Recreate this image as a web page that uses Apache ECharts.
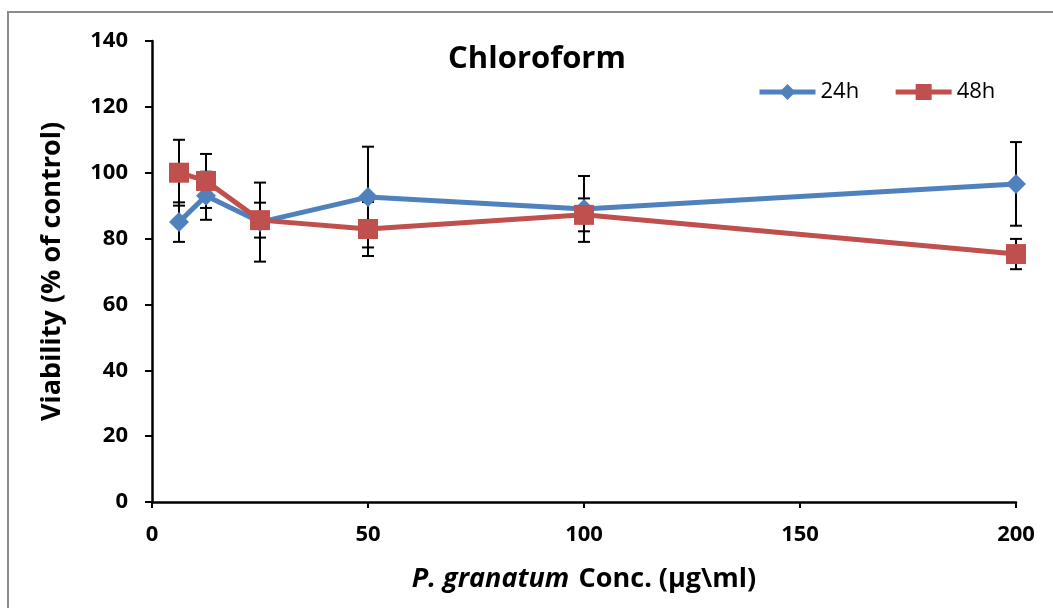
<!DOCTYPE html>
<html>
<head>
<meta charset="utf-8">
<script src="https://cdn.jsdelivr.net/npm/echarts@6/dist/echarts.min.js"></script>
<style>
  html, body { margin: 0; padding: 0; background: #fff; }
  #container { width: 1053px; height: 608px; }
</style>
</head>
<body>
<div id="container"></div>
<script>
var conc = [6.25, 12.5, 25, 50, 100, 200];
var viab24 = [85, 93, 85, 92.6, 89, 96.6];
var err24 = [6, 7.3, 12, 15.3, 10, 12.7];
var viab48 = [100, 97.5, 85.6, 82.9, 87.2, 75.3];
var err48 = [10, 8.2, 5.3, 8.2, 5, 4.6];
var yTicks = [0, 20, 40, 60, 80, 100, 120, 140];
var xTicks = [0, 50, 100, 150, 200];

(function() {
    var dom = document.getElementById("container");
    var myChart = echarts.init(dom);
    var font = '"Open Sans", sans-serif';

    function pairs(vals) {
        return conc.map(function(x, i) {
            return [x, vals[i]];
        });
    }

    function bars(vals, errs) {
        return conc.map(function(x, i) {
            return [x, vals[i] - errs[i], vals[i] + errs[i]];
        });
    }

    function renderErr(params, api) {
        var lo = api.coord([api.value(0), api.value(1)]);
        var hi = api.coord([api.value(0), api.value(2)]);
        var w = 6;
        var st = { stroke: '#000', lineWidth: 2 };
        return {
            type: 'group',
            children: [
                { type: 'line', shape: { x1: hi[0], y1: hi[1], x2: lo[0], y2: lo[1] }, style: st },
                { type: 'line', shape: { x1: hi[0] - w, y1: hi[1], x2: hi[0] + w, y2: hi[1] }, style: st },
                { type: 'line', shape: { x1: lo[0] - w, y1: lo[1], x2: lo[0] + w, y2: lo[1] }, style: st }
            ]
        };
    }

    var option = {
        animation: false,
        textStyle: { fontFamily: font },
        graphic: [{
            type: 'rect',
            shape: { x: 8, y: 12, width: 1100, height: 700 },
            style: { fill: 'none', stroke: '#8c8c8c', lineWidth: 2 },
            z: -1
        }],
        title: {
            text: 'Chloroform',
            left: 532,
            top: 39,
            textAlign: 'center',
            textStyle: { fontFamily: font, fontSize: 31, fontWeight: 'bold', color: '#000' }
        },
        legend: {
            left: 752,
            top: 76,
            itemWidth: 56,
            itemHeight: 20,
            itemGap: 34,
            textStyle: { fontFamily: font, fontSize: 22, color: '#000' },
            data: [
                { name: '24h', lineStyle: { width: 5 } },
                { name: '48h', lineStyle: { width: 5 } }
            ]
        },
        grid: { left: 152, top: 41, right: 37, bottom: 106 },
        xAxis: {
            type: 'value',
            min: 0,
            max: 200,
            interval: 50,
            axisLine: { lineStyle: { color: '#000', width: 2.5 } },
            axisTick: { show: true, length: 6, lineStyle: { color: '#000', width: 2 } },
            axisLabel: {
                margin: 22,
                fontSize: 22,
                fontWeight: 'bold',
                color: '#000',
                fontFamily: font,
                customValues: xTicks
            },
            splitLine: { show: false },
            name: '{i|P. granatum}   {n|Conc. (µg\\ml)}',
            nameLocation: 'middle',
            nameGap: 64,
            nameTextStyle: {
                rich: {
                    i: { fontSize: 27, fontWeight: 'bold', fontStyle: 'italic', color: '#000', fontFamily: font },
                    n: { fontSize: 27, fontWeight: 'bold', color: '#000', fontFamily: font }
                }
            }
        },
        yAxis: {
            type: 'value',
            min: 0,
            max: 140,
            interval: 20,
            axisLine: { show: true, lineStyle: { color: '#000', width: 2.5 } },
            axisTick: { show: true, length: 7, lineStyle: { color: '#000', width: 2 } },
            axisLabel: {
                margin: 24,
                fontSize: 22,
                fontWeight: 'bold',
                color: '#000',
                fontFamily: font
            },
            splitLine: { show: false },
            name: 'Viability (% of control)',
            nameLocation: 'middle',
            nameRotate: 90,
            nameGap: 86,
            nameTextStyle: { fontSize: 27, fontWeight: 'bold', color: '#000', fontFamily: font }
        },
        series: [{
            name: 'err24',
            type: 'custom',
            renderItem: renderErr,
            data: bars(viab24, err24),
            encode: { x: 0, y: [1, 2] },
            z: 1
        }, {
            name: 'err48',
            type: 'custom',
            renderItem: renderErr,
            data: bars(viab48, err48),
            encode: { x: 0, y: [1, 2] },
            z: 1
        }, {
            name: '24h',
            type: 'line',
            data: pairs(viab24),
            symbol: 'diamond',
            symbolSize: 20,
            lineStyle: { color: '#4F81BD', width: 5 },
            itemStyle: { color: '#4F81BD' },
            z: 3
        }, {
            name: '48h',
            type: 'line',
            data: pairs(viab48),
            symbol: 'rect',
            symbolSize: 20,
            lineStyle: { color: '#C0504D', width: 5 },
            itemStyle: { color: '#C0504D' },
            z: 4
        }]
    };

    myChart.setOption(option);
}).call(this);
</script>
</body>
</html>
